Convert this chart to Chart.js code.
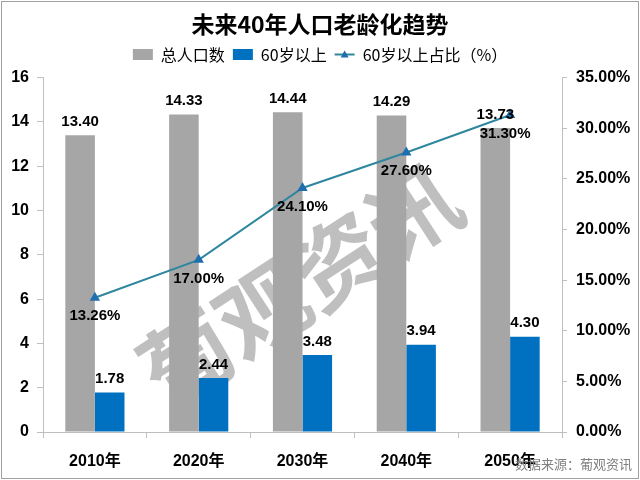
<!DOCTYPE html>
<html>
<head>
<meta charset="utf-8">
<script src="https://cdn.jsdelivr.net/npm/chart.js@4"></script>
<style>
  body { margin: 0; background: #fff; }
</style>
</head>
<body>
<canvas id="agingChart" width="640" height="480"></canvas>
<script>
const years = ["2010年", "2020年", "2030年", "2040年", "2050年"];
const totalPop = [13.40, 14.33, 14.44, 14.29, 13.73];
const over60 = [1.78, 2.44, 3.48, 3.94, 4.30];
const over60Share = [13.26, 17.00, 24.10, 27.60, 31.30];

const FONT = '"Liberation Sans", "Noto Sans CJK SC", sans-serif';
const CJK = '"Noto Sans CJK SC", "Liberation Sans", sans-serif';

// watermark, source note, frame and legend triangle
const decor = {
  id: "decor",
  beforeInit(chart) {
    // leave a bit more room under the legend
    const fit = chart.legend.fit;
    chart.legend.fit = function () {
      fit.call(this);
      this.height += 5;
    };
  },
  beforeDatasetsDraw(chart) {
    const ctx = chart.ctx;
    ctx.save();
    ctx.translate(300, 285);
    ctx.rotate(-33 * Math.PI / 180);
    ctx.font = 'bold 90px ' + CJK;
    ctx.fillStyle = "rgba(175,175,175,0.8)";
    ctx.textAlign = "center";
    ctx.textBaseline = "middle";
    ctx.fillText("葡观资讯", 0, 0);
    ctx.restore();
  },
  afterDraw(chart) {
    const ctx = chart.ctx;
    ctx.save();
    ctx.strokeStyle = "#A0A0A0";
    ctx.lineWidth = 1;
    ctx.strokeRect(1.5, 1.5, 637, 477);

    ctx.font = '13px ' + CJK;
    ctx.fillStyle = "#808080";
    ctx.textAlign = "right";
    ctx.textBaseline = "middle";
    ctx.fillText("数据来源：葡观资讯", 632, 464);

    const box = chart.legend.legendHitBoxes[2];
    if (box) {
      const cx = box.left + 10, cy = box.top + box.height / 2;
      ctx.fillStyle = "#1F6FAF";
      ctx.beginPath();
      ctx.moveTo(cx, cy - 4);
      ctx.lineTo(cx + 4, cy + 3);
      ctx.lineTo(cx - 4, cy + 3);
      ctx.closePath();
      ctx.fill();
    }
    ctx.restore();
  }
};

// value labels
const valueLabels = {
  id: "valueLabels",
  afterDatasetsDraw(chart) {
    const ctx = chart.ctx;
    ctx.save();
    ctx.font = 'bold 15px ' + FONT;
    ctx.fillStyle = "#000";
    ctx.textAlign = "center";
    chart.data.datasets.forEach((ds, i) => {
      const meta = chart.getDatasetMeta(i);
      meta.data.forEach((el, j) => {
        const v = ds.data[j];
        if (ds.type === "line") {
          ctx.textBaseline = "top";
          ctx.fillText(v.toFixed(2) + "%", el.x - (j === 4 ? 5 : 0), el.y + 11);
        } else {
          ctx.textBaseline = "bottom";
          ctx.fillText(v.toFixed(2), el.x, el.y - 6);
        }
      });
    });
    ctx.restore();
  }
};

new Chart(document.getElementById("agingChart"), {
  data: {
    labels: years,
    datasets: [
      {
        type: "bar",
        label: "总人口数",
        data: totalPop,
        backgroundColor: "#A6A6A6",
        yAxisID: "y",
        order: 2,
        barPercentage: 1,
        categoryPercentage: 0.57
      },
      {
        type: "bar",
        label: "60岁以上",
        data: over60,
        backgroundColor: "#0070C0",
        yAxisID: "y",
        order: 3,
        barPercentage: 1,
        categoryPercentage: 0.57
      },
      {
        type: "line",
        label: "60岁以上占比（%）",
        data: over60Share,
        borderColor: "#2E879E",
        borderWidth: 2,
        backgroundColor: "#1F6FAF",
        pointStyle: "triangle",
        pointRadius: 4,
        pointBackgroundColor: "#1F6FAF",
        pointBorderColor: "#1F6FAF",
        yAxisID: "y1",
        order: 1,
        tension: 0
      }
    ]
  },
  options: {
    responsive: false,
    animation: false,
    layout: { padding: { left: 0, right: 0, top: 2, bottom: 0 } },
    plugins: {
      title: {
        display: true,
        text: "未来40年人口老龄化趋势",
        color: "#000",
        font: { family: CJK, size: 23, weight: "bold" },
        padding: { top: 8, bottom: 1 }
      },
      legend: {
        labels: {
          color: "#000",
          font: { family: CJK, size: 16 },
          usePointStyle: true,
          pointStyleWidth: 20,
          boxHeight: 11,
          padding: 8,
          sort: (a, b) => a.datasetIndex - b.datasetIndex,
          generateLabels(chart) {
            const items = Chart.defaults.plugins.legend.labels.generateLabels(chart);
            items.forEach((it) => {
              const ds = chart.data.datasets[it.datasetIndex];
              if (ds.type === "line") {
                it.pointStyle = "line";
                it.strokeStyle = ds.borderColor;
                it.lineWidth = 2;
              } else {
                it.pointStyle = "rect";
                it.lineWidth = 0;
                it.strokeStyle = ds.backgroundColor;
              }
            });
            return items;
          }
        }
      },
      tooltip: { enabled: false }
    },
    scales: {
      x: {
        grid: { display: true, drawOnChartArea: false, tickLength: 6, color: "#BFBFBF", offset: true },
        border: { color: "#BFBFBF" },
        ticks: { color: "#000", font: { family: FONT, size: 16, weight: "bold" }, padding: 14, maxRotation: 0 },
        afterFit(scale) { scale.height = 48; }
      },
      y: {
        position: "left",
        min: 0,
        max: 16,
        ticks: { stepSize: 2, color: "#000", font: { family: FONT, size: 16, weight: "bold" }, padding: 8 },
        grid: { display: true, drawOnChartArea: false, tickLength: 6, color: "#BFBFBF" },
        border: { color: "#BFBFBF" },
        afterFit(scale) { scale.width = 43; }
      },
      y1: {
        position: "right",
        min: 0,
        max: 35,
        ticks: {
          stepSize: 5,
          color: "#000",
          font: { family: FONT, size: 16, weight: "bold" },
          padding: 9,
          callback: (v) => v.toFixed(2) + "%"
        },
        grid: { display: true, drawOnChartArea: false, tickLength: 5, color: "#BFBFBF" },
        border: { color: "#BFBFBF" },
        afterFit(scale) { scale.width = 78; }
      }
    }
  },
  plugins: [decor, valueLabels]
});
</script>
</body>
</html>
